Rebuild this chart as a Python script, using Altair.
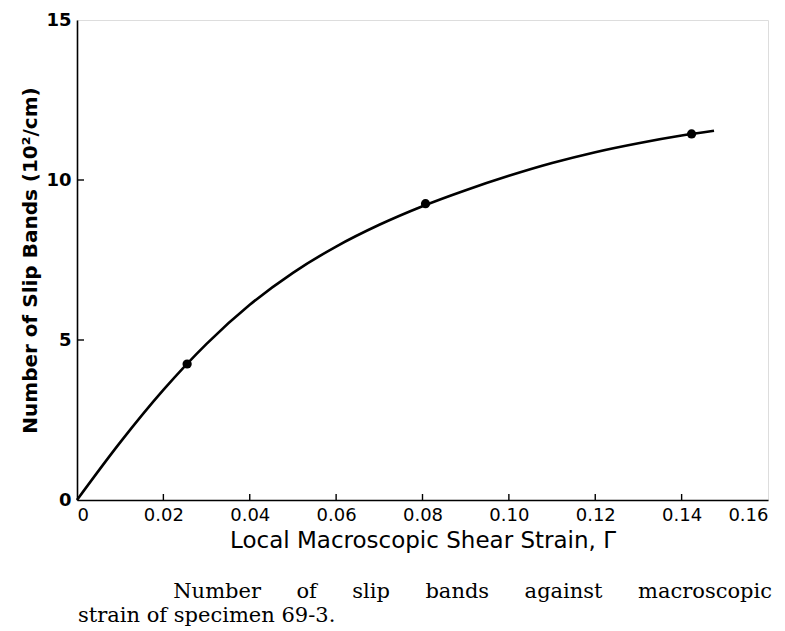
import altair as alt
import pandas as pd

# measured data points (strain, slip bands in 10^2/cm)
pt_x = [0.0255, 0.0807, 0.1423]
pt_y = [4.25, 9.26, 11.44]

# smooth fitted curve
curve_x = [0.0, 0.01, 0.02, 0.03, 0.04, 0.05, 0.06, 0.07, 0.08, 0.09, 0.10, 0.11, 0.12, 0.13, 0.14, 0.1475]
curve_y = [0.0, 1.8, 3.44, 4.88, 6.10, 7.10, 7.92, 8.60, 9.18, 9.68, 10.13, 10.53, 10.87, 11.15, 11.39, 11.54]

x_ticks = [0, 0.02, 0.04, 0.06, 0.08, 0.10, 0.12, 0.14, 0.16]
y_ticks = [0, 5, 10, 15]
x_inner_ticks = [0.02, 0.04, 0.06, 0.08, 0.10, 0.12, 0.14]
y_inner_ticks = [5, 10]

x_title = "Local Macroscopic Shear Strain, \u0393"
y_title = "Number of Slip Bands (10\u00b2/cm)"
gap = "\u00a0" * 5 + "\u200a"
caption1 = gap.join(["Number", "of", "slip", "bands", "against", "macroscopic"])
caption2 = "strain of specimen 69-3."

W, H = 691, 480
TOP = 12

curve_df = pd.DataFrame({"x": curve_x, "y": curve_y})
pts_df = pd.DataFrame({"x": pt_x, "y": pt_y})
xt_df = pd.DataFrame({"x": x_inner_ticks})
yt_df = pd.DataFrame({"y": y_inner_ticks})

xscale = alt.Scale(domain=[0, 0.16], nice=False, zero=True)
yscale = alt.Scale(domain=[0, 15], nice=False, zero=True)

xaxis = alt.Axis(
    values=x_ticks, title=x_title, grid=False, tickSize=0, labelPadding=6,
    labelExpr="datum.value == 0 ? '0' : format(datum.value, '.2f')",
    labelFlush=True, labelFont="DejaVu Sans", labelFontSize=18, labelFontWeight="normal",
    titleFont="DejaVu Sans", titleFontSize=23, titleFontWeight="normal", titlePadding=5,
    domainColor="black", domainWidth=1.6, labelColor="black", titleColor="black",
)
yaxis = alt.Axis(
    values=y_ticks, title=y_title, grid=False, tickSize=0, labelPadding=6,
    labelFont="DejaVu Sans", labelFontSize=18, labelFontWeight="bold",
    titleFont="DejaVu Sans", titleFontSize=20, titleFontWeight="bold", titlePadding=5,
    domainColor="black", domainWidth=1.6, labelColor="black", titleColor="black",
)

line = alt.Chart(curve_df).mark_line(color="black", strokeWidth=2.6, interpolate="monotone").encode(
    x=alt.X("x:Q", scale=xscale, axis=xaxis),
    y=alt.Y("y:Q", scale=yscale, axis=yaxis),
)
points = alt.Chart(pts_df).mark_point(filled=True, color="black", size=85, opacity=1).encode(
    x=alt.X("x:Q", scale=xscale),
    y=alt.Y("y:Q", scale=yscale),
)
xticks = alt.Chart(xt_df).mark_rule(color="black", strokeWidth=1.4).encode(
    x=alt.X("x:Q", scale=xscale),
    y=alt.value(H),
    y2=alt.value(H - 6),
)
yticks = alt.Chart(yt_df).mark_rule(color="black", strokeWidth=1.4).encode(
    y=alt.Y("y:Q", scale=yscale),
    x=alt.value(0),
    x2=alt.value(7),
)
cap1 = alt.Chart(pd.DataFrame({"t": [caption1]})).mark_text(
    font="DejaVu Serif", fontSize=21, align="right", baseline="alphabetic", color="black"
).encode(text="t:N", x=alt.value(695), y=alt.value(598 - 8 - TOP))
cap2 = alt.Chart(pd.DataFrame({"t": [caption2]})).mark_text(
    font="DejaVu Serif", fontSize=21, align="left", baseline="alphabetic", color="black"
).encode(text="t:N", x=alt.value(1), y=alt.value(622 - 8 - TOP))

chart = alt.layer(xticks, yticks, line, points, cap1, cap2).properties(
    width=W, height=H,
    autosize=alt.AutoSizeParams(type="none"),
    padding={"left": 69, "top": TOP, "right": 8, "bottom": 128},
).configure_view(stroke=None).configure(background="white")

chart.save("out.html", embed_options={"renderer": "svg", "actions": False})
